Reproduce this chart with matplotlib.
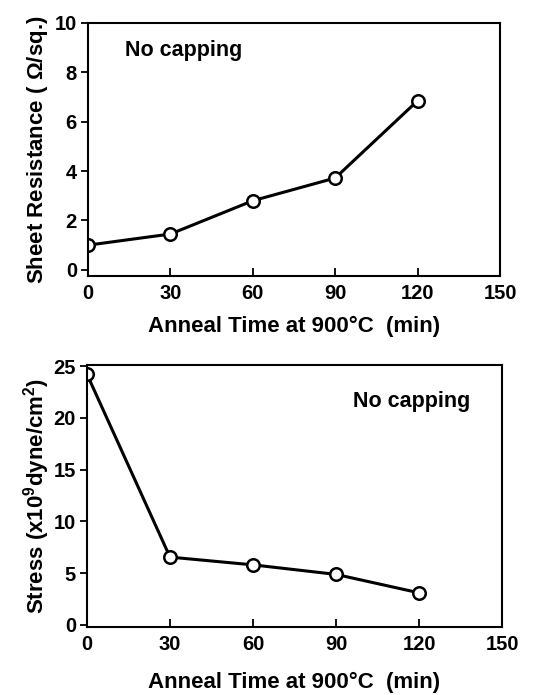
import matplotlib.pyplot as plt

# anneal times (min)
time_min = [0, 30, 60, 90, 120]
# sheet resistance (ohm/sq.)
sheet_res = [1.0, 1.45, 2.8, 3.72, 6.85]
# stress (x10^9 dyne/cm^2)
stress = [24.2, 6.55, 5.8, 4.88, 3.1]

x_ticks = [0, 30, 60, 90, 120, 150]

plt.rcParams['font.family'] = ['Liberation Sans', 'DejaVu Sans']
plt.rcParams['font.weight'] = 'bold'
plt.rcParams['axes.labelweight'] = 'bold'
plt.rcParams['mathtext.fontset'] = 'custom'
plt.rcParams['mathtext.rm'] = 'Liberation Sans:bold'
plt.rcParams['mathtext.it'] = 'Liberation Sans:italic:bold'

fig = plt.figure(figsize=(5.34, 6.95), dpi=100)
ax1 = fig.add_axes([88 / 534, 1 - 276 / 695, 412 / 534, 253 / 695])
ax2 = fig.add_axes([87 / 534, 1 - 627 / 695, 415 / 534, 262 / 695])

style = dict(color='black', lw=2.2, marker='o', ms=9, mfc='white', mec='black', mew=1.8)

ax1.plot(time_min, sheet_res, **style)
ax1.set_xlim(0, 150)
ax1.set_ylim(-0.25, 10)
ax1.set_yticks([0, 2, 4, 6, 8, 10])
ax1.set_ylabel('Sheet Resistance ( $\\Omega$/sq.)', fontsize=16, labelpad=3)
ax1.text(0.09, 0.87, 'No capping', transform=ax1.transAxes, fontsize=15.5)
ax1.set_xlabel('Anneal Time at 900°C  (min)', fontsize=16, labelpad=9)

ax2.plot(time_min, stress, **style)
ax2.set_xlim(0, 150)
ax2.set_ylim(-0.2, 25.1)
ax2.set_yticks([0, 5, 10, 15, 20, 25])
ax2.set_ylabel('Stress (x10$^9$dyne/cm$^2$)', fontsize=16, labelpad=1)
ax2.text(0.64, 0.84, 'No capping', transform=ax2.transAxes, fontsize=15.5)
ax2.set_xlabel('Anneal Time at 900°C  (min)', fontsize=16, labelpad=13)

for ax in (ax1, ax2):
    ax.set_xticks(x_ticks)
    ax.tick_params(axis='x', direction='in', length=6, width=1.3, labelsize=14.5, pad=6)
    ax.tick_params(axis='y', direction='out', length=5, width=1.3, labelsize=14.5, pad=3)
    for sp in ax.spines.values():
        sp.set_linewidth(1.5)

fig.savefig('out.png', dpi=100)
